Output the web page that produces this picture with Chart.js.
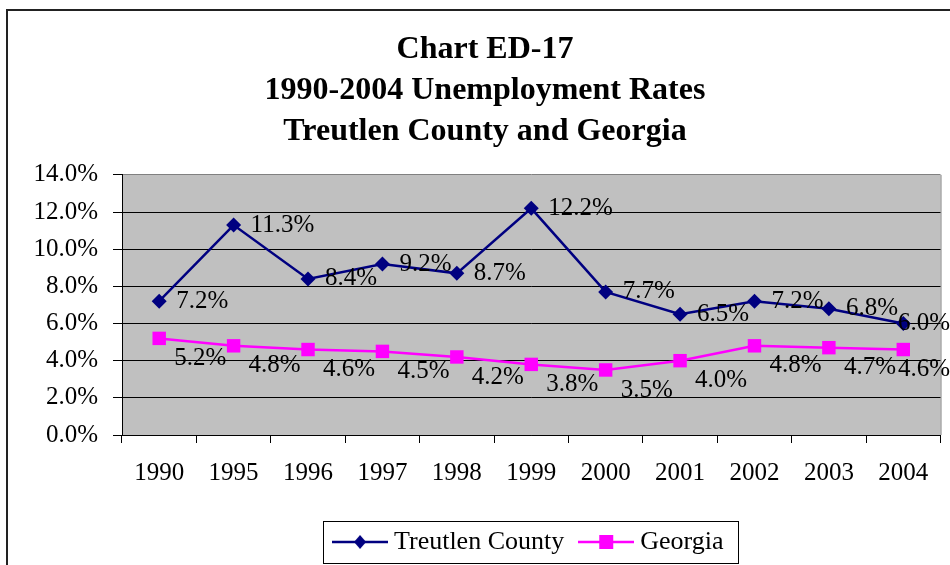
<!DOCTYPE html>
<html>
<head>
<meta charset="utf-8">
<script src="https://cdn.jsdelivr.net/npm/chart.js@4.4.1/dist/chart.umd.min.js"></script>
<style>
  html, body { margin: 0; padding: 0; background: #fff; overflow: hidden; }
  #frame { position: absolute; left: 6px; top: 9px; width: 2000px; height: 2000px; border: 2px solid #222; }
  #chart { position: absolute; left: 0; top: 0; }
</style>
</head>
<body>
<div id="frame"></div>
<canvas id="chart" width="950" height="565"></canvas>
<script>
// Tahun dan tingkat pengangguran (%)
const years = ['1990', '1995', '1996', '1997', '1998', '1999', '2000', '2001', '2002', '2003', '2004'];
const treutlen = [7.2, 11.3, 8.4, 9.2, 8.7, 12.2, 7.7, 6.5, 7.2, 6.8, 6.0];
const georgia = [5.2, 4.8, 4.6, 4.5, 4.2, 3.8, 3.5, 4.0, 4.8, 4.7, 4.6];
const seriesNames = ['Treutlen County', 'Georgia'];
const titleLines = ['Chart ED-17', '1990-2004 Unemployment Rates', 'Treutlen County and Georgia'];

const navy = '#000080';
const magenta = '#FF00FF';
const serif = '"Liberation Serif", "Times New Roman", serif';

Chart.defaults.font.family = serif;
Chart.defaults.color = '#000';

// simbol legenda: garis + penanda
function legendSymbol(color, shape) {
    const c = document.createElement('canvas');
    c.width = 56;
    c.height = 20;
    const g = c.getContext('2d');
    g.strokeStyle = color;
    g.lineWidth = 2.5;
    g.beginPath();
    g.moveTo(0, 10);
    g.lineTo(56, 10);
    g.stroke();
    g.fillStyle = color;
    g.beginPath();
    if (shape === 'diamond') {
        g.moveTo(28, 3);
        g.lineTo(34, 10);
        g.lineTo(28, 17);
        g.lineTo(22, 10);
        g.closePath();
    } else {
        g.rect(21, 3, 14, 14);
    }
    g.fill();
    return c;
}

// latar abu-abu area plot
const plotBackground = {
    id: 'plotBackground',
    beforeDraw(chart) {
        const a = chart.chartArea;
        const ctx = chart.ctx;
        ctx.save();
        ctx.fillStyle = '#C0C0C0';
        ctx.fillRect(a.left, a.top, a.right - a.left, a.bottom - a.top);
        ctx.strokeStyle = '#808080';
        ctx.lineWidth = 1;
        ctx.beginPath();
        ctx.moveTo(a.right + 0.5, a.top);
        ctx.lineTo(a.right + 0.5, a.bottom);
        ctx.stroke();
        ctx.restore();
    }
};

// label nilai di samping titik (digeser ke kiri bila keluar kanvas)
const labelOffsets = [{dx: 17, dy: 0}, {dx: 15, dy: 20}];
const valueLabels = {
    id: 'valueLabels',
    afterDatasetsDraw(chart) {
        const ctx = chart.ctx;
        ctx.save();
        ctx.font = '25px ' + serif;
        ctx.fillStyle = '#000';
        ctx.textAlign = 'left';
        ctx.textBaseline = 'middle';
        chart.data.datasets.forEach((ds, i) => {
            const off = labelOffsets[i];
            chart.getDatasetMeta(i).data.forEach((pt, j) => {
                const txt = ds.data[j].toFixed(1) + '%';
                const w = ctx.measureText(txt).width;
                const x = Math.min(pt.x + off.dx, chart.width - w);
                ctx.fillText(txt, x, pt.y + off.dy);
            });
        });
        ctx.restore();
    }
};

// legenda dipusatkan di bawah area plot, dengan kotak
const legendFrame = {
    id: 'legendFrame',
    afterLayout(chart) {
        const lg = chart.legend;
        lg.left = chart.chartArea.left;
        lg.right = chart.chartArea.right;
    },
    afterDraw(chart) {
        const lg = chart.legend;
        const pad = lg.options.labels.padding;
        const size = lg.options.labels.font.size;
        const x0 = (lg.left + pad + lg.right - lg.lineWidths[0]) / 2;
        const x1 = x0 + lg.lineWidths[0] - pad;
        const cy = lg.top + pad + size / 2;
        const ctx = chart.ctx;
        ctx.save();
        ctx.strokeStyle = '#000';
        ctx.lineWidth = 1;
        ctx.strokeRect(Math.round(x0 - 16) + 0.5, Math.round(cy - 21) + 0.5, Math.round(x1 - x0 + 31), 42);
        ctx.restore();
    }
};

const ctx = document.getElementById('chart').getContext('2d');
const chart = new Chart(ctx, {
    type: 'line',
    data: {
        labels: years,
        datasets: [{
            label: seriesNames[0],
            data: treutlen,
            borderColor: navy,
            backgroundColor: navy,
            borderWidth: 2.5,
            pointStyle: 'rectRot',
            pointRadius: 7.5,
            pointBorderWidth: 0,
            tension: 0,
            clip: false
        }, {
            label: seriesNames[1],
            data: georgia,
            borderColor: magenta,
            backgroundColor: magenta,
            borderWidth: 2.5,
            pointStyle: 'rect',
            pointRadius: 9.5,
            pointBorderWidth: 0,
            tension: 0,
            clip: false
        }]
    },
    options: {
        responsive: false,
        animation: false,
        devicePixelRatio: 1,
        layout: { padding: { top: 29, left: 28, right: 8, bottom: 0 } },
        plugins: {
            title: {
                display: true,
                text: titleLines,
                color: '#000',
                font: { size: 32, weight: 'bold', lineHeight: 1.28 },
                padding: { top: 0, bottom: 23 }
            },
            legend: {
                display: true,
                position: 'bottom',
                maxHeight: 60,
                labels: {
                    usePointStyle: true,
                    pointStyleWidth: 42,
                    padding: 21,
                    color: '#000',
                    font: { size: 26 },
                    generateLabels(chart) {
                        return chart.data.datasets.map((ds, i) => ({
                            text: ds.label,
                            pointStyle: legendSymbol(ds.borderColor, i === 0 ? 'diamond' : 'square'),
                            fillStyle: ds.borderColor,
                            strokeStyle: ds.borderColor,
                            lineWidth: 0,
                            hidden: false,
                            datasetIndex: i
                        }));
                    }
                }
            },
            tooltip: { enabled: false }
        },
        scales: {
            x: {
                offset: true,
                grid: {
                    offset: true,
                    drawOnChartArea: false,
                    drawTicks: true,
                    tickLength: 8,
                    color: '#000'
                },
                border: { color: '#000', width: 1 },
                ticks: { font: { size: 25 }, color: '#000', padding: 15, maxRotation: 0 },
                afterFit(scale) { scale.height = 73; }
            },
            y: {
                min: 0,
                max: 14,
                grid: {
                    color: (c) => (c.tick && c.tick.value === 14 ? '#808080' : '#000'),
                    tickColor: '#000',
                    tickLength: 9,
                    lineWidth: 1
                },
                border: { color: '#000', width: 1 },
                ticks: {
                    stepSize: 2,
                    font: { size: 25 },
                    color: '#000',
                    padding: 15,
                    callback: (v) => v.toFixed(1) + '%'
                },
                afterFit(scale) { scale.width = 94; }
            }
        }
    },
    plugins: [plotBackground, valueLabels, legendFrame]
});
</script>
</body>
</html>
